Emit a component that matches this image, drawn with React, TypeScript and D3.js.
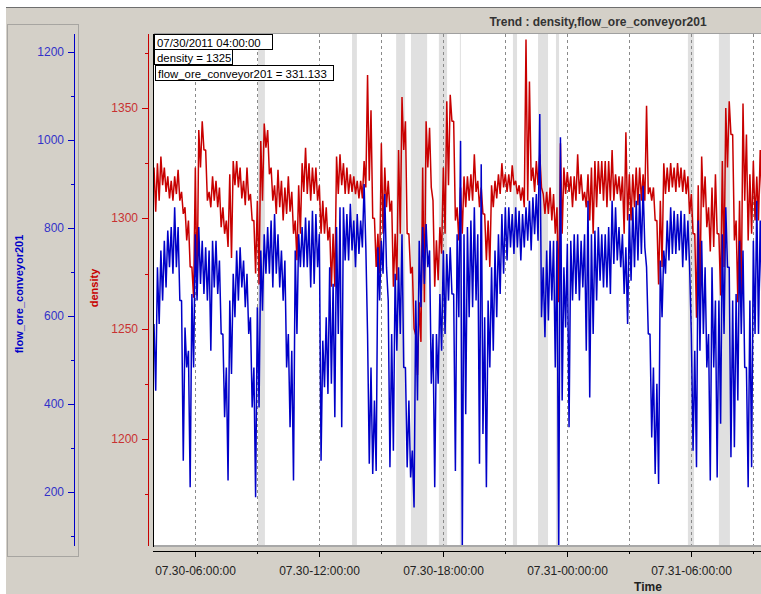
import React from "react";
import * as d3 from "d3";

// trend samples: one [high, low] pair per 10 minute window, starting 07/30/2011 04:00
const startTime = "2011-07-30T04:00";
const sampleMinutes = 10;

const densityHigh = [
  1323, 1325, 1328, 1323, 1319, 1317, 1319, 1322, 1312, 1305,
  1299, 1278, 1323, 1340, 1344, 1331, 1312, 1319, 1317, 1314,
  1305, 1299, 1320, 1326, 1326, 1323, 1317, 1323, 1311, 1299,
  1308, 1335, 1343, 1340, 1323, 1315, 1322, 1317, 1314, 1319,
  1312, 1299, 1315, 1325, 1332, 1325, 1323, 1323, 1315, 1308,
  1305, 1296, 1293, 1328, 1329, 1325, 1323, 1320, 1319, 1317,
  1317, 1326, 1365, 1349, 1300, 1293, 1334, 1323, 1317, 1308,
  1293, 1331, 1355, 1344, 1293, 1278, 1247, 1262, 1323, 1344,
  1341, 1308, 1290, 1296, 1323, 1353, 1356, 1344, 1305, 1314,
  1319, 1319, 1320, 1329, 1317, 1314, 1302, 1299, 1315, 1317,
  1320, 1325, 1320, 1320, 1324, 1317, 1315, 1314, 1381, 1362,
  1323, 1326, 1329, 1311, 1312, 1314, 1311, 1305, 1334, 1323,
  1321, 1319, 1319, 1329, 1320, 1312, 1320, 1323, 1326, 1326,
  1326, 1326, 1326, 1331, 1320, 1319, 1319, 1339, 1320, 1320,
  1323, 1323, 1320, 1351, 1314, 1314, 1299, 1308, 1325, 1323,
  1325, 1323, 1325, 1323, 1322, 1319, 1311, 1293, 1315, 1328,
  1319, 1305, 1314, 1320, 1293, 1326, 1350, 1353, 1338, 1299,
  1308, 1352, 1338, 1320, 1326, 1319, 1331,
];

const densityLow = [
  1303, 1308, 1315, 1312, 1309, 1308, 1311, 1308, 1302, 1290,
  1278, 1264, 1265, 1323, 1331, 1308, 1305, 1308, 1305, 1296,
  1293, 1287, 1282, 1315, 1314, 1309, 1306, 1308, 1299, 1275,
  1270, 1308, 1332, 1320, 1308, 1302, 1305, 1299, 1302, 1303,
  1293, 1281, 1293, 1312, 1311, 1308, 1311, 1308, 1293, 1293,
  1290, 1269, 1269, 1311, 1315, 1311, 1311, 1312, 1311, 1309,
  1309, 1314, 1317, 1300, 1278, 1275, 1293, 1305, 1303, 1269,
  1272, 1293, 1331, 1293, 1275, 1250, 1229, 1244, 1262, 1323,
  1314, 1269, 1272, 1284, 1293, 1315, 1344, 1299, 1290, 1293,
  1305, 1308, 1308, 1312, 1305, 1302, 1281, 1278, 1305, 1309,
  1311, 1314, 1312, 1312, 1315, 1311, 1308, 1305, 1308, 1317,
  1312, 1315, 1314, 1302, 1302, 1299, 1293, 1262, 1293, 1311,
  1312, 1305, 1308, 1311, 1308, 1305, 1299, 1293, 1305, 1311,
  1308, 1305, 1308, 1308, 1311, 1308, 1293, 1299, 1299, 1305,
  1306, 1308, 1308, 1311, 1308, 1299, 1270, 1278, 1311, 1312,
  1314, 1312, 1314, 1312, 1311, 1302, 1293, 1255, 1262, 1305,
  1296, 1285, 1287, 1293, 1265, 1278, 1323, 1338, 1290, 1262,
  1262, 1308, 1290, 1293, 1299, 1299, 1308,
];

const flowHigh = [
  582, 711, 749, 771, 794, 802, 847, 802, 635, 574,
  521, 650, 786, 802, 771, 756, 749, 771, 771, 726,
  559, 483, 635, 696, 749, 756, 726, 696, 597, 483,
  620, 749, 786, 802, 817, 832, 786, 749, 726, 559,
  521, 749, 786, 802, 824, 817, 839, 832, 786, 544,
  597, 711, 673, 802, 847, 847, 832, 855, 817, 832,
  817, 900, 559, 483, 408, 756, 771, 877, 635, 559,
  696, 711, 786, 483, 408, 294, 635, 771, 802, 809,
  749, 559, 559, 650, 749, 741, 756, 650, 786, 998,
  786, 802, 817, 847, 786, 945, 597, 635, 711, 749,
  786, 832, 847, 847, 832, 847, 839, 832, 847, 862,
  870, 877, 1059, 711, 749, 771, 771, 771, 1006, 711,
  764, 771, 786, 786, 771, 786, 862, 786, 794, 802,
  786, 786, 802, 862, 847, 802, 786, 756, 832, 847,
  862, 877, 896, 711, 559, 483, 446, 726, 749, 817,
  847, 839, 832, 839, 832, 817, 559, 521, 817, 771,
  711, 559, 711, 635, 635, 786, 847, 711, 635, 650,
  771, 749, 483, 635, 771, 862, 817,
];

const flowLow = [
  430, 582, 635, 665, 711, 696, 711, 635, 271, 483,
  211, 483, 635, 673, 650, 635, 521, 665, 650, 559,
  370, 226, 468, 597, 635, 665, 620, 559, 392, 188,
  392, 612, 696, 696, 665, 696, 665, 635, 483, 347,
  226, 559, 711, 711, 711, 665, 673, 711, 271, 438,
  423, 446, 370, 559, 347, 726, 726, 749, 711, 741,
  756, 756, 264, 241, 248, 635, 696, 711, 256, 294,
  521, 559, 483, 256, 233, 165, 408, 620, 673, 711,
  446, 211, 446, 521, 559, 635, 650, 248, 597, 60,
  377, 597, 620, 635, 264, 332, 211, 483, 521, 597,
  650, 696, 726, 756, 741, 756, 726, 756, 771, 749,
  786, 771, 597, 552, 590, 635, 483, 60, 408, 574,
  347, 635, 650, 635, 665, 521, 415, 559, 635, 680,
  665, 665, 650, 718, 726, 711, 650, 582, 680, 711,
  726, 741, 756, 559, 324, 241, 218, 597, 696, 726,
  741, 741, 749, 711, 726, 711, 294, 256, 521, 559,
  483, 226, 483, 233, 355, 559, 711, 279, 302, 408,
  559, 483, 211, 256, 559, 559, 635,
];

// shaded (no data) periods
const bandStarts = [
  "2011-07-30T09:02", "2011-07-30T13:35", "2011-07-30T15:43", "2011-07-30T16:26",
  "2011-07-30T17:47", "2011-07-30T18:48", "2011-07-30T21:22", "2011-07-30T22:35",
  "2011-07-30T23:27", "2011-07-31T05:50", "2011-07-31T07:20",
];
const bandEnds = [
  "2011-07-30T09:22", "2011-07-30T13:49", "2011-07-30T16:09", "2011-07-30T17:13",
  "2011-07-30T18:11", "2011-07-30T18:51", "2011-07-30T21:34", "2011-07-30T23:04",
  "2011-07-30T23:36", "2011-07-31T06:08", "2011-07-31T07:52",
];

const densityMajor = [1200, 1250, 1300, 1350];
const densityMinor = [1175, 1225, 1275, 1325, 1375];
const flowMajor = [200, 400, 600, 800, 1000, 1200];
const flowMinor = [100, 300, 500, 700, 900, 1100];

const cursorLines = ["07/30/2011 04:00:00", "density = 1325", "flow_ore_conveyor201 = 331.133"];

const FONT = "'Liberation Sans', Arial, sans-serif";
const W = 761;
const H = 594;
const plotLeft = 154;
const plotTop = 34;
const plotBottom = 545;
const RED = "#c80000";
const BLUE = "#0000c8";

const parse = d3.timeParse("%Y-%m-%dT%H:%M");

export default function App() {
  const t0 = parse(startTime) as Date;
  const x = d3
    .scaleTime()
    .domain([t0, d3.timeHour.offset(t0, 30)])
    .range([plotLeft, plotLeft + 620]);
  const yDen = d3.scaleLinear().domain([1200, 1350]).range([439, 108]);
  const yFlow = d3.scaleLinear().domain([200, 1200]).range([492, 52]);

  // zigzag between each window's high and low
  const envelope = (hi: number[], lo: number[]) =>
    hi.flatMap((h, i) => {
      const t = d3.timeMinute.offset(t0, i * sampleMinutes);
      return [
        [t, h],
        [d3.timeMinute.offset(t, sampleMinutes / 2), lo[i]],
      ] as [Date, number][];
    });

  const lineFor = (y: d3.ScaleLinear<number, number>) =>
    d3
      .line<[Date, number]>()
      .x((d) => x(d[0]))
      .y((d) => y(d[1]));

  const denPath = lineFor(yDen)(envelope(densityHigh, densityLow)) || "";
  const flowPath = lineFor(yFlow)(envelope(flowHigh, flowLow)) || "";

  const gridTicks = x.ticks(d3.timeHour.every(3) as d3.TimeInterval);
  const fmt = d3.timeFormat("%m.%d-%H:%M:%S");

  // cursor readout boxes [x, y, width]
  const boxes = [
    [154, 34, 118],
    [154, 49, 78],
    [155, 65, 178],
  ];

  return (
    <svg
      width={W}
      height={H}
      style={{ position: "absolute", left: 0, top: 0 }}
      fontFamily={FONT}
    >
      <defs>
        <clipPath id="plotClip">
          <rect x={plotLeft} y={plotTop} width={W - plotLeft} height={plotBottom - plotTop} />
        </clipPath>
      </defs>
      <rect width={W} height={H} fill="#ffffff" />
      <rect x={6} y={7} width={W - 6} height={H - 7} fill="#d4d0c8" />
      <line x1={6} x2={W} y1={7.5} y2={7.5} stroke="#6e6e6e" />

      <text x={598} y={26} textAnchor="middle" fontSize={12} fontWeight="bold" fill="#333">
        Trend : density,flow_ore_conveyor201
      </text>

      {/* plot area */}
      <rect x={plotLeft} y={plotTop} width={W - plotLeft} height={plotBottom - plotTop} fill="#ffffff" />
      <g clipPath="url(#plotClip)">
        {bandStarts.map((s, i) => {
          const a = x(parse(s) as Date);
          const b = x(parse(bandEnds[i]) as Date);
          return <rect key={s} x={a} y={plotTop} width={b - a} height={plotBottom - plotTop} fill="#e0e0e0" />;
        })}
        {gridTicks.map((t) => (
          <line
            key={+t}
            x1={Math.round(x(t)) + 0.5}
            x2={Math.round(x(t)) + 0.5}
            y1={plotTop}
            y2={plotBottom}
            stroke="#8a8a8a"
            strokeDasharray="3,3"
          />
        ))}
        <path d={denPath} fill="none" stroke={RED} strokeWidth={1.5} strokeLinejoin="bevel" />
        <path d={flowPath} fill="none" stroke={BLUE} strokeWidth={1.5} strokeLinejoin="bevel" />
      </g>

      {/* frame */}
      <line x1={plotLeft} x2={W} y1={33.5} y2={33.5} stroke="#a0a0a0" />
      <line x1={plotLeft} x2={W} y1={546} y2={546} stroke="#a8a8a8" strokeWidth={2} />
      <line x1={153.5} x2={153.5} y1={plotTop} y2={547} stroke="#000" />

      {/* cursor readout */}
      {cursorLines.map((s, i) => (
        <g key={s}>
          <rect
            x={boxes[i][0] + 0.5}
            y={boxes[i][1] + 0.5}
            width={boxes[i][2]}
            height={15}
            fill="#fff"
            stroke="#000"
          />
          <text x={boxes[i][0] + 3} y={boxes[i][1] + 12.5} fontSize={11.4} fill="#000">
            {s}
          </text>
        </g>
      ))}

      {/* time axis */}
      <line x1={153} x2={W} y1={551.5} y2={551.5} stroke="#000" />
      {gridTicks.map((t) => {
        const major = t.getHours() % 6 === 0;
        const xx = Math.round(x(t)) + 0.5;
        return (
          <g key={+t}>
            <line x1={xx} x2={xx} y1={551} y2={major ? 557 : 554} stroke="#000" />
            {major && (
              <text x={xx} y={575} textAnchor="middle" fontSize={12} fill="#222">
                {fmt(t)}
              </text>
            )}
          </g>
        );
      })}
      <text x={648} y={591} textAnchor="middle" fontSize={12} fontWeight="bold" fill="#222">
        Time
      </text>

      {/* flow axis */}
      <rect x={7.5} y={24.5} width={71} height={532} fill="none" stroke="#7a7a7a" strokeDasharray="1,1" />
      <line x1={74.5} x2={74.5} y1={plotTop} y2={546} stroke={BLUE} />
      {flowMajor.map((v) => (
        <g key={v}>
          <line x1={68} x2={74} y1={Math.round(yFlow(v)) + 0.5} y2={Math.round(yFlow(v)) + 0.5} stroke={BLUE} />
          <text x={64} y={yFlow(v) + 4} textAnchor="end" fontSize={12} fill="#3232c8">
            {v}
          </text>
        </g>
      ))}
      {flowMinor.map((v) => (
        <line key={v} x1={71} x2={74} y1={Math.round(yFlow(v)) + 0.5} y2={Math.round(yFlow(v)) + 0.5} stroke={BLUE} />
      ))}
      <text
        transform="translate(23,294) rotate(-90)"
        textAnchor="middle"
        fontSize={11}
        fontWeight="bold"
        fill={BLUE}
      >
        flow_ore_conveyor201
      </text>

      {/* density axis */}
      <line x1={148.5} x2={148.5} y1={plotTop} y2={546} stroke={RED} />
      {densityMajor.map((v) => (
        <g key={v}>
          <line x1={142} x2={148} y1={Math.round(yDen(v)) + 0.5} y2={Math.round(yDen(v)) + 0.5} stroke={RED} />
          <text x={138} y={yDen(v) + 4} textAnchor="end" fontSize={12} fill="#c83232">
            {v}
          </text>
        </g>
      ))}
      {densityMinor.map((v) => (
        <line key={v} x1={145} x2={148} y1={Math.round(yDen(v)) + 0.5} y2={Math.round(yDen(v)) + 0.5} stroke={RED} />
      ))}
      <text
        transform="translate(98,288) rotate(-90)"
        textAnchor="middle"
        fontSize={11}
        fontWeight="bold"
        fill={RED}
      >
        density
      </text>
    </svg>
  );
}
